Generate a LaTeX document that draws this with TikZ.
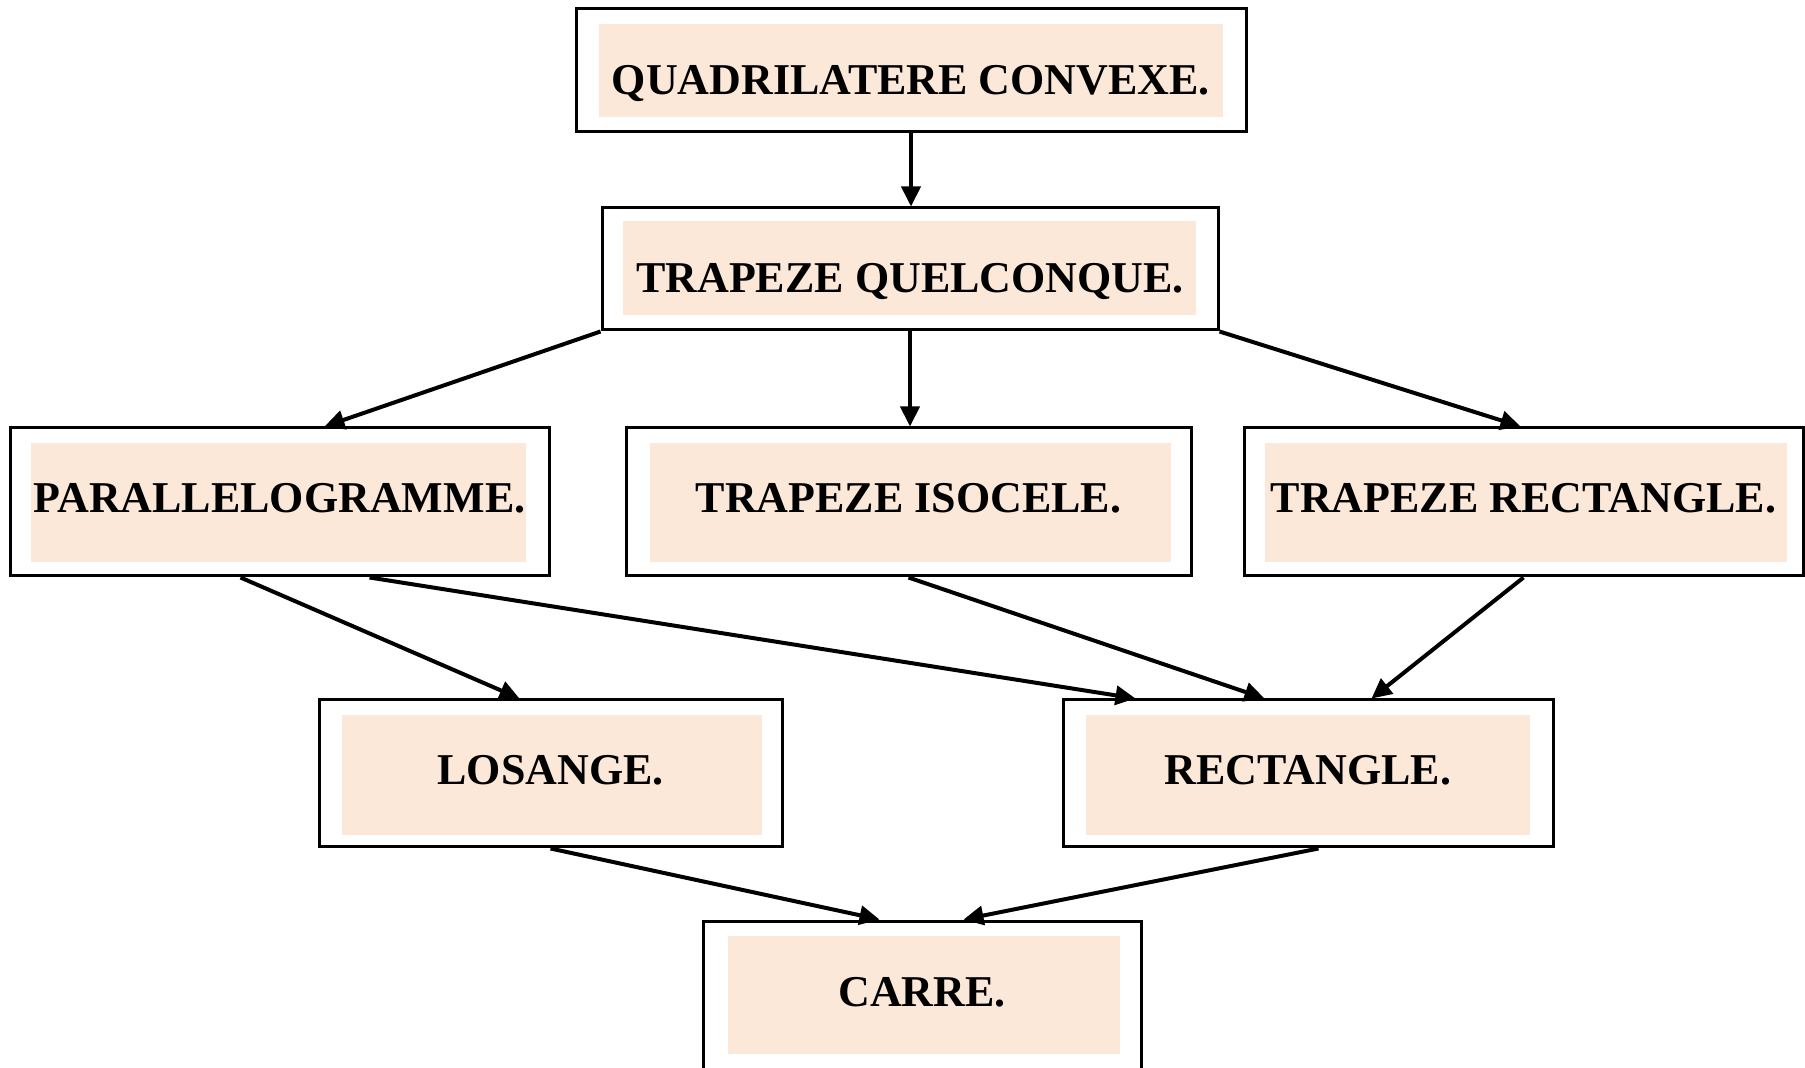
\documentclass[tikz,border=0pt]{standalone}
\usepackage{fontspec}
\setmainfont{Liberation Serif}
\usetikzlibrary{arrows.meta,calc}
\definecolor{peach}{HTML}{FCE8D8}
\tikzset{
  outerbox/.style={draw=black, line width=1.5pt, inner sep=0pt, fill=none,
    font=\fontsize{22pt}{26pt}\selectfont\bfseries, text height=11pt, text depth=0pt},
  toptext/.style={text height=23.6pt, text depth=0pt},
  innerfill/.style={fill=peach},
  conn/.style={draw=black, line width=2pt, -{Triangle[length=10pt,width=9.5pt]}}
}
\begin{document}
\begin{tikzpicture}[x=0.5pt,y=-0.5pt]
\useasboundingbox (0,0) rectangle (1805,1068);
\clip (0,0) rectangle (1805,1068);
% inner fills
\fill[innerfill] (599,24) rectangle (1223,117);
\fill[innerfill] (623,221) rectangle (1196,315);
\fill[innerfill] (31,443) rectangle (526,562);
\fill[innerfill] (650,443) rectangle (1171,562);
\fill[innerfill] (1265,443) rectangle (1787,562);
\fill[innerfill] (342,715) rectangle (762,835);
\fill[innerfill] (1086,715) rectangle (1530,835);
\fill[innerfill] (728,936) rectangle (1120,1054);
% outer boxes with text
\node[outerbox, toptext, minimum width=335pt, minimum height=61.5pt] (qc) at (911,70.5) {QUADRILATERE CONVEXE.};
\node[outerbox, toptext, minimum width=308pt, minimum height=61pt] (tq) at (910,269) {TRAPEZE QUELCONQUE.};
\node[outerbox, minimum width=269.5pt, minimum height=74pt] (para) at (279.5,502) {PARALLELOGRAMME.};
\node[outerbox, minimum width=282.5pt, minimum height=74pt] (ti) at (908.5,502) {TRAPEZE ISOCELE.};
\node[outerbox, minimum width=279.5pt, minimum height=74pt] (tr) at (1523.5,502) {TRAPEZE RECTANGLE.};
\node[outerbox, minimum width=231.5pt, minimum height=73.5pt] (los) at (550.5,773.5) {LOSANGE.};
\node[outerbox, minimum width=245pt, minimum height=73.5pt] (rect) at (1308,773.5) {RECTANGLE.};
\node[outerbox, minimum width=219pt, minimum height=74.5pt] (carre) at (922,995.5) {CARRE.};
% connectors
\draw[conn] (qc.south) -- (qc.south |- tq.north);
\draw[conn] (tq.south west) -- ($(para.north west)+(316,0)$);
\draw[conn] (tq.south) -- (tq.south |- ti.north);
\draw[conn] (tq.south east) -- ($(tr.north west)+(278,0)$);
\draw[conn] ($(para.south west)+(232,0)$) -- ($(los.north west)+(202,0)$);
\draw[conn] ($(para.south west)+(361,0)$) -- ($(rect.north west)+(74,0)$);
\draw[conn] (ti.south) -- ($(rect.north west)+(203,0)$);
\draw[conn] (tr.south) -- ($(rect.north west)+(310,0)$);
\draw[conn] (los.south) -- ($(carre.north west)+(178,0)$);
\draw[conn] ($(rect.south west)+(257,0)$) -- ($(carre.north west)+(262,0)$);
\end{tikzpicture}
\end{document}
